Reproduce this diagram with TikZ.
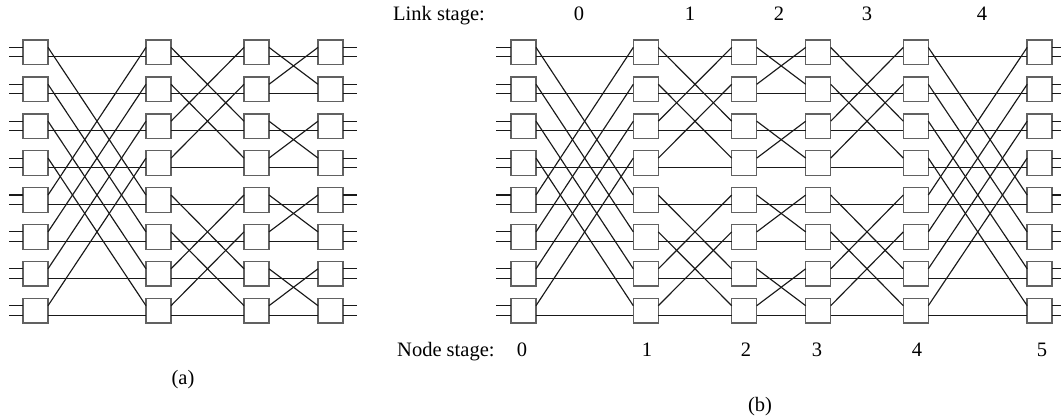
\documentclass[tikz,border=0pt]{standalone}
\usepackage{fontspec}
\setmainfont{Liberation Serif}
\begin{document}
\begin{tikzpicture}[x=1pt,y=-1pt,
  sw/.style={draw=black!62, fill=white, line width=1.5pt, minimum width=25pt, minimum height=24.7pt, inner sep=0pt, outer sep=0pt},
  wire/.style={draw=black!90, line width=1.15pt},
  lbl/.style={font=\fontsize{20.5}{24}\selectfont, anchor=base, inner sep=0pt}]
\useasboundingbox (0,0) rectangle (1061,417);
% ---------- (a) butterfly ----------
\foreach \c/\x in {0/35.5,1/158.5,2/256.5,3/330.5}
  \foreach \r in {0,...,7}
    \node[sw] (a\c\r) at (\x, 52.4+36.9*\r) {};
\foreach \c/\n/\d in {0/1/4,1/2/2,2/3/1}
  \foreach \r in {0,...,7}{
    \pgfmathtruncatemacro\p{ifthenelse(mod(int(\r/\d),2)==0,\r+\d,\r-\d)}
    \draw[wire] ([yshift=-4.5pt]a\c\r.east) -- ([yshift=-4.5pt]a\n\r.west);
    \draw[wire] ([yshift=5pt]a\c\r.east) -- ([yshift=5pt]a\n\p.west);
  }
\foreach \r in {0,...,7}{
  \draw[wire] ([yshift=5pt]a0\r.west) -- ++(-14,0);
  \draw[wire] ([yshift=-4.5pt]a0\r.west) -- ++(-14,0);
  \draw[wire] ([yshift=5pt]a3\r.east) -- ++(14,0);
  \draw[wire] ([yshift=-4.5pt]a3\r.east) -- ++(14,0);
}
\node[lbl] (la) at (183,384) {(a)};
% ---------- (b) Benes ----------
\foreach \c/\x in {0/523.5,1/645.8,2/744.2,3/818.2,4/915.8,5/1039.7}
  \foreach \r in {0,...,7}
    \node[sw] (b\c\r) at (\x, 52.4+36.9*\r) {};
\foreach \c/\n/\d in {0/1/4,1/2/2,2/3/1,3/4/2,4/5/4}
  \foreach \r in {0,...,7}{
    \pgfmathtruncatemacro\p{ifthenelse(mod(int(\r/\d),2)==0,\r+\d,\r-\d)}
    \draw[wire] ([yshift=-4.5pt]b\c\r.east) -- ([yshift=-4.5pt]b\n\r.west);
    \draw[wire] ([yshift=5pt]b\c\r.east) -- ([yshift=5pt]b\n\p.west);
  }
\foreach \r in {0,...,7}{
  \draw[wire] ([yshift=5pt]b0\r.west) -- ++(-15,0);
  \draw[wire] ([yshift=-4.5pt]b0\r.west) -- ++(-15,0);
  \draw[wire] ([yshift=5pt]b5\r.east) -- ++(10,0);
  \draw[wire] ([yshift=-4.5pt]b5\r.east) -- ++(10,0);
}
\node[lbl, anchor=base west] (lsl) at (393,21) {Link stage:};
\foreach \i/\x in {0/579,1/690,2/779,3/867,4/982}
  \node[lbl] (ls\i) at (\x,21) {\i};
\node[lbl, anchor=base west] (nsl) at (397,356) {Node stage:};
\foreach \i/\x in {0/522,1/647,2/746,3/817,4/917,5/1042}
  \node[lbl] (ns\i) at (\x,356) {\i};
\node[lbl] (lb) at (760,411) {(b)};
\end{tikzpicture}
\end{document}
